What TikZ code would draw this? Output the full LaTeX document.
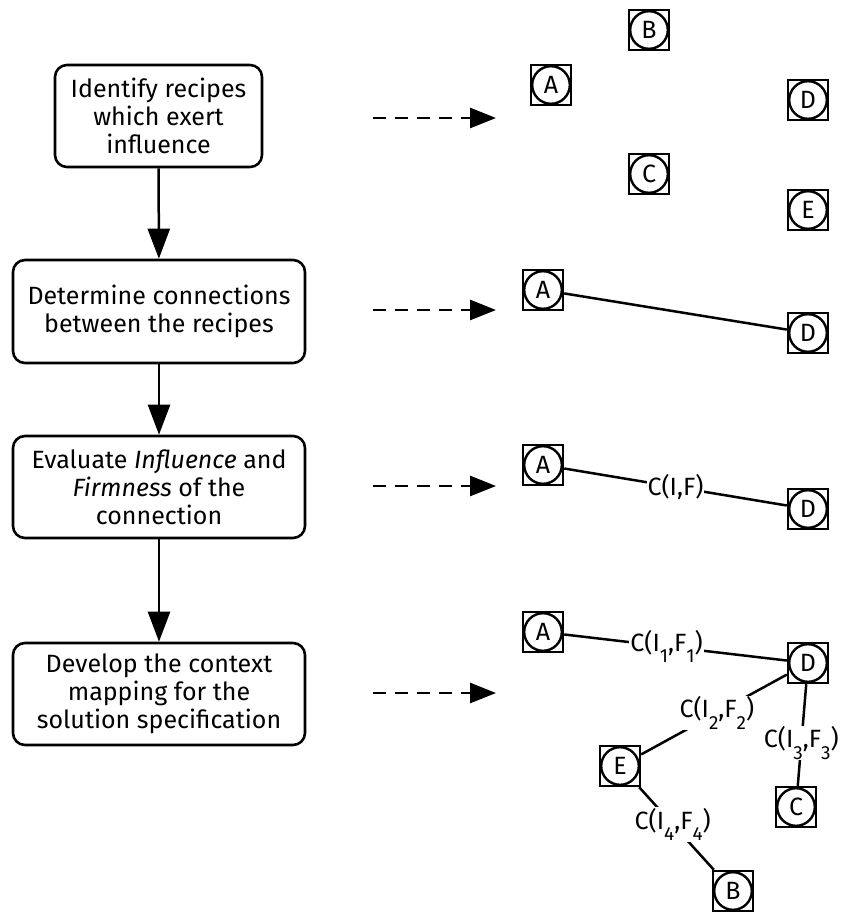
\documentclass[tikz,border=0pt]{standalone}
\usepackage{fontspec}
\setmainfont{Fira Sans}
\usetikzlibrary{arrows.meta}

% lowered, smaller index digits in the connection labels
\newcommand\idx[1]{\raisebox{-0.45em}{\fontsize{19}{19}\selectfont #1}}

\tikzset{
  every node/.style={font=\fontsize{25}{28}\selectfont},
  stepbox/.style={draw, line width=2.6pt, rounded corners=12pt, align=center,
    inner sep=0pt},
  recipe/.style={draw, line width=2.4pt, rectangle, minimum size=40pt, inner sep=0pt,
    path picture={\draw[line width=2.4pt] (path picture bounding box.center) circle (18.8pt);}},
  link/.style={line width=2.5pt},
  conn/.style={fill=white, inner sep=1pt},
  flow/.style={line width=2.5pt, -{Triangle[length=30pt,width=22pt]}},
  maps/.style={line width=2.8pt, dash pattern=on 13pt off 9pt,
    -{Triangle[length=26pt,width=20pt]}},
}

\begin{document}
\begin{tikzpicture}[x=1pt, y=-1pt]
\useasboundingbox (0,0) rectangle (843,915);

% process steps
\node[stepbox, minimum width=207pt, minimum height=102pt] (s1) at (158.5,116)
  {Identify recipes\\which exert\\influence};
\node[stepbox, minimum width=292pt, minimum height=103pt] (s2) at (159,311.5)
  {Determine connections\\between the recipes};
\node[stepbox, minimum width=292pt, minimum height=102pt] (s3) at (159,487)
  {Evaluate \textit{Influence} and\\\textit{Firmness} of the\\connection};
\node[stepbox, minimum width=292pt, minimum height=102pt] (s4) at (159,694)
  {Develop the context\\mapping for the\\solution specification};

\draw[flow] (s1) -- (s2);
\draw[flow] (s2) -- (s3);
\draw[flow] (s3) -- (s4);

% arrows towards the illustrations
\foreach \i/\y in {1/118, 2/310, 3/486, 4/693} {
  \coordinate (m\i a) at (373,\y);
  \coordinate (m\i b) at (496,\y);
  \draw[maps] (m\i a) -- (m\i b);
}

% step 1: the recipes
\node[recipe] (a1) at (551,85) {A};
\node[recipe] (b1) at (649,30) {B};
\node[recipe] (c1) at (649,174) {C};
\node[recipe] (d1) at (808,100) {D};
\node[recipe] (e1) at (808,210) {E};

% step 2: a connection
\node[recipe] (a2) at (543,290) {A};
\node[recipe] (d2) at (808,333) {D};
\draw[link] (a2) -- (d2);

% step 3: the weighted connection
\node[recipe] (a3) at (543,465) {A};
\node[recipe] (d3) at (808,509) {D};
\draw[link] (a3) -- node[conn, pos=0.5] {C(I,F)} (d3);

% step 4: the context mapping
\node[recipe] (a4) at (543,632) {A};
\node[recipe] (d4) at (808,663) {D};
\node[recipe] (e4) at (620,766) {E};
\node[recipe] (c4) at (796,807) {C};
\node[recipe] (b4) at (733,891) {B};
\draw[link] (a4) -- node[conn, pos=0.46] {C(I\idx{1},F\idx{1})} (d4);
\draw[link] (d4) -- node[conn, pos=0.48] {C(I\idx{2},F\idx{2})} (e4);
\draw[link] (d4) -- node[conn, pos=0.58] {C(I\idx{3},F\idx{3})} (c4);
\draw[link] (e4) -- node[conn, pos=0.45] {C(I\idx{4},F\idx{4})} (b4);
\end{tikzpicture}
\end{document}
